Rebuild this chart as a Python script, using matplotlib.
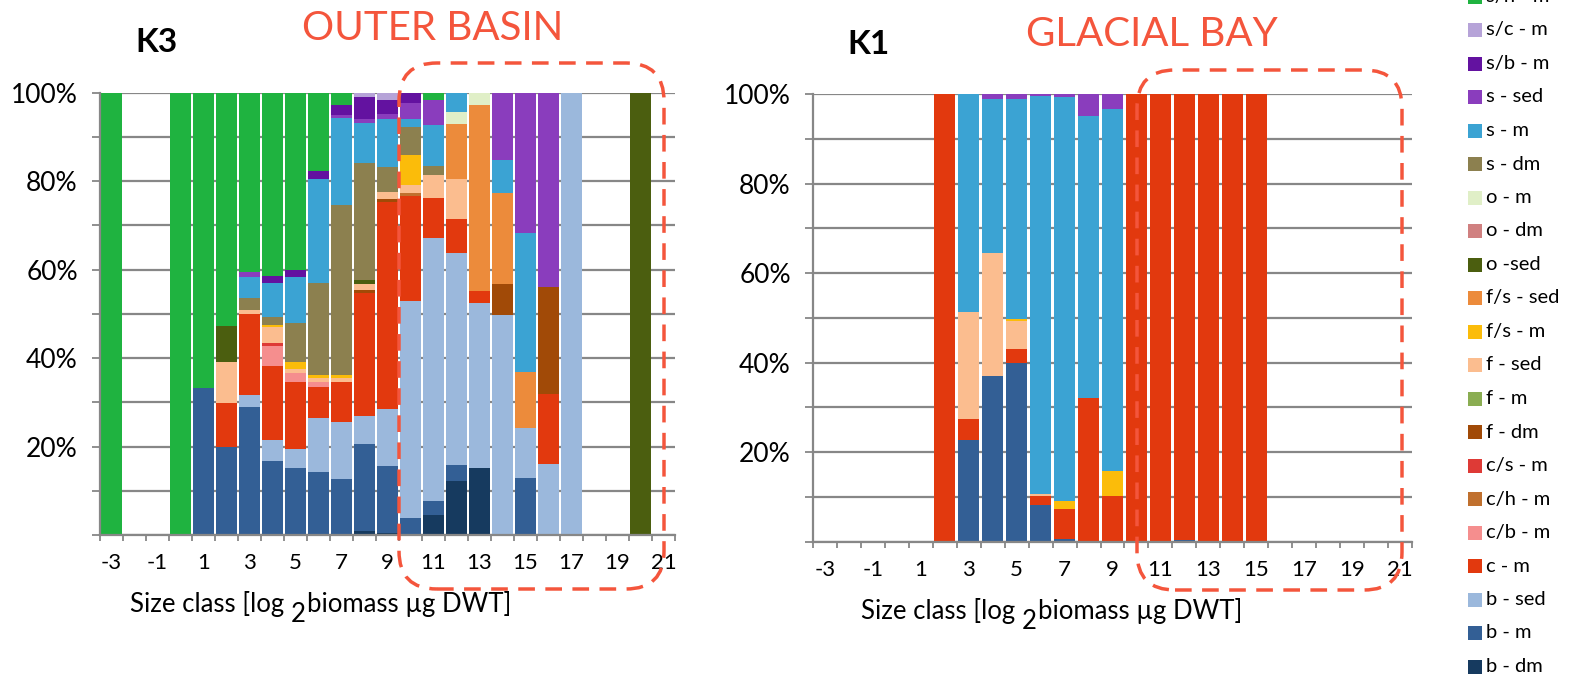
import numpy as np
import matplotlib
matplotlib.use("Agg")
import matplotlib.pyplot as plt
from matplotlib.patches import Rectangle, FancyBboxPatch
from matplotlib.transforms import IdentityTransform

plt.rcParams['font.family'] = ['Lato', 'DejaVu Sans']

W, H = 1569, 678

# size classes (log2 biomass), shared by both stations
size_class = list(range(-3, 22))

# legend order, top to bottom (bars stack in reverse of this)
legend_names = ["s/h - m", "s/c - m", "s/b - m", "s - sed", "s - m", "s - dm",
                "o - m", "o - dm", "o -sed", "f/s - sed", "f/s - m", "f - sed",
                "f - m", "f - dm", "c/s - m", "c/h - m", "c/b - m", "c - m",
                "b - sed", "b - m", "b - dm"]
legend_colors = ["#1fb340", "#b6a3d8", "#6312a0", "#8a3dbd", "#3ba3d3", "#8c804f",
                 "#e0efc7", "#d08080", "#4b5e0f", "#ec8b3b", "#fbbc0a", "#fbbd8f",
                 "#8aad52", "#a14a07", "#de3a36", "#c0702e", "#f58e8e", "#e2390e",
                 "#9bb8dc", "#335f95", "#163a5f"]

# K3 (outer basin), % per size class  -3 .. 21
k3_b_dm   = [0,0,0,0,0, 0,0,0,0,0, 0,0.8,0.5,0,4.5, 12.2,15.2,0,0,0, 0,0,0,0,0]
k3_b_m    = [0,0,0,0,33.2, 20.0,29.0,16.8,15.2,14.2, 12.7,19.7,15.1,3.9,3.2, 3.6,0,0,13.0,0, 0,0,0,0,0]
k3_b_sed  = [0,0,0,0,0, 0,2.6,4.7,4.2,12.2, 12.9,6.3,12.8,49.0,59.5, 47.9,37.2,49.7,11.3,16.1, 100,0,0,0,0]
k3_c_m    = [0,0,0,0,0, 9.9,18.3,16.8,15.3,7.1, 9.1,28.0,46.8,23.8,9.1, 7.7,2.8,0,0,15.7, 0,0,0,0,0]
k3_c_b_m  = [0,0,0,0,0, 0,0,4.5,2.0,1.0, 0,0,0,0,0, 0,0,0,0,0, 0,0,0,0,0]
k3_c_h_m  = [0,0,0,0,0, 0,0,0,0,0, 0,0,0,0.7,0, 0,0,0,0,0, 0,0,0,0,0]
k3_c_s_m  = [0,0,0,0,0, 0,0,0.5,0,0, 0,0,0,0,0, 0,0,0,0,0, 0,0,0,0,0]
k3_f_dm   = [0,0,0,0,0, 0,0,0,0,0, 0,0.6,0.8,0,0, 0,0,7.0,0,24.3, 0,0,0,0,0]
k3_f_sed  = [0,0,0,0,0, 9.3,1.0,3.8,0.8,0.9, 0.7,1.3,1.6,1.7,5.2, 9.1,0,0,0,0, 0,0,0,0,0]
k3_f_s_m  = [0,0,0,0,0, 0,0,0.4,1.7,0.8, 0.8,0,0,6.8,0, 0,0,0,0,0, 0,0,0,0,0]
k3_f_s_sed = [0,0,0,0,0, 0,0,0,0,0, 0,0,0,0,0, 12.4,42.0,20.7,12.6,0, 0,0,0,0,0]
k3_o_sed  = [0,0,0,0,0, 8.1,0,0,0,0, 0,0.9,0,0,0, 0,0,0,0,0, 0,0,0,100,0]
k3_o_m    = [0,0,0,0,0, 0,0,0,0,0, 0,0,0,0,0, 2.7,2.8,0,0,0, 0,0,0,0,0]
k3_s_dm   = [0,0,0,0,0, 0,2.6,1.9,8.7,20.8, 38.3,26.6,5.7,6.4,1.9, 0,0,0,0,0, 0,0,0,0,0]
k3_s_m    = [0,0,0,0,0, 0,4.9,7.5,10.5,23.6, 19.7,9.0,10.7,1.7,9.4, 4.4,0,7.4,31.3,0, 0,0,0,0,0]
k3_s_sed  = [0,0,0,0,0, 0,1.1,0,0,0, 0.8,0.8,1.1,3.6,5.5, 0,0,15.2,31.8,43.9, 0,0,0,0,0]
k3_s_b_m  = [0,0,0,0,0, 0,0,1.7,1.5,1.8, 2.2,5.1,3.2,2.4,0, 0,0,0,0,0, 0,0,0,0,0]
k3_s_c_m  = [0,0,0,0,0, 0,0,0,0,0, 0,0.9,1.7,0,0, 0,0,0,0,0, 0,0,0,0,0]
k3_s_h_m  = [100,0,0,100,66.8, 52.7,40.5,41.4,40.1,17.6, 2.8,0,0,0,1.7, 0,0,0,0,0, 0,0,0,0,0]

# K1 (glacial bay)
k1_b_m    = [0,0,0,0,0, 0,22.7,36.9,40.0,8.3, 0.5,0,0,0,0, 0.3,0,0,0,0, 0,0,0,0,0]
k1_c_m    = [0,0,0,0,0, 100,4.6,0,3.0,2.0, 6.8,32.0,10.1,100,100, 99.7,100,100,100,0, 0,0,0,0,0]
k1_f_sed  = [0,0,0,0,0, 0,23.9,27.5,6.4,0.3, 0,0,0,0,0, 0,0,0,0,0, 0,0,0,0,0]
k1_f_s_m  = [0,0,0,0,0, 0,0,0,0.4,0, 1.9,0,5.7,0,0, 0,0,0,0,0, 0,0,0,0,0]
k1_s_m    = [0,0,0,0,0, 0,48.8,34.5,49.1,89.0, 90.2,63.1,80.8,0,0, 0,0,0,0,0, 0,0,0,0,0]
k1_s_sed  = [0,0,0,0,0, 0,0,1.1,1.1,0.4, 0.6,4.9,3.4,0,0, 0,0,0,0,0, 0,0,0,0,0]

k3 = {"b - dm": k3_b_dm, "b - m": k3_b_m, "b - sed": k3_b_sed, "c - m": k3_c_m,
      "c/b - m": k3_c_b_m, "c/h - m": k3_c_h_m, "c/s - m": k3_c_s_m, "f - dm": k3_f_dm,
      "f - sed": k3_f_sed, "f/s - m": k3_f_s_m, "f/s - sed": k3_f_s_sed, "o -sed": k3_o_sed,
      "o - m": k3_o_m, "s - dm": k3_s_dm, "s - m": k3_s_m, "s - sed": k3_s_sed,
      "s/b - m": k3_s_b_m, "s/c - m": k3_s_c_m, "s/h - m": k3_s_h_m}
k1 = {"b - m": k1_b_m, "c - m": k1_c_m, "f - sed": k1_f_sed, "f/s - m": k1_f_s_m,
      "s - m": k1_s_m, "s - sed": k1_s_sed}

GRID = "#878787"
RED = "#f4553c"


def draw_panel(ax, data):
    x = np.array(size_class)
    bottom = np.zeros(len(x))
    # stack from the bottom of the legend upwards
    for name, color in zip(legend_names[::-1], legend_colors[::-1]):
        vals = np.array(data.get(name, [0] * len(x)), dtype=float)
        if vals.sum() == 0:
            continue
        ax.bar(x, vals, bottom=bottom, width=0.87, color=color, linewidth=0)
        bottom += vals

    ax.set_xlim(-3.5, 21.5)
    ax.set_ylim(0, 100)
    ax.set_axisbelow(True)
    ax.set_yticks(np.arange(0, 101, 10))
    ax.set_yticklabels([f"{v}%" if v > 0 and v % 20 == 0 else "" for v in range(0, 101, 10)],
                       fontsize=19)
    ax.yaxis.grid(True, color=GRID, linewidth=1.6)
    ax.tick_params(axis="y", length=6, width=1.3, color=GRID, pad=10)

    ax.set_xticks(size_class[::2])
    ax.set_xticklabels([str(v) for v in size_class[::2]], fontsize=16)
    ax.set_xticks(np.arange(-3.5, 22, 1), minor=True)
    ax.tick_params(axis="x", which="major", length=0, pad=13)
    ax.tick_params(axis="x", which="minor", length=4, width=1.3, color=GRID)

    for s in ["top", "right"]:
        ax.spines[s].set_visible(False)
    for s in ["left", "bottom"]:
        ax.spines[s].set_color(GRID)
        ax.spines[s].set_linewidth(1.6)


fig = plt.figure(figsize=(W / 100, H / 100), dpi=100)
fig.patch.set_facecolor("white")

ax1 = fig.add_axes([100 / W, 1 - 535 / H, 575 / W, (535 - 92.7) / H])
ax2 = fig.add_axes([813 / W, 1 - 541.7 / H, 599 / W, (541.7 - 94) / H])
draw_panel(ax1, k3)
draw_panel(ax2, k1)

# titles
fig.text(157 / W, 1 - 43 / H, "K3", fontsize=24, fontweight="bold", ha="center", va="center")
fig.text(868 / W, 1 - 44 / H, "K1", fontsize=24, fontweight="bold", ha="center", va="center")
fig.text(433 / W, 1 - 28 / H, "OUTER BASIN", fontsize=29, color=RED, ha="center", va="center")
fig.text(1152 / W, 1 - 35 / H, "GLACIAL BAY", fontsize=29, color=RED, ha="center", va="center")

# x axis titles with the lowered "2"
for x0, ybase in [(130, 612), (861, 619)]:
    t1 = fig.text(x0 / W, 1 - ybase / H, "Size class [log", fontsize=18.5, va="baseline")
    t2 = fig.add_artist(plt.Annotation("2", xy=(1, 0), xycoords=t1, xytext=(5, -7),
                                       textcoords="offset points", fontsize=18.5, va="bottom"))
    fig.add_artist(plt.Annotation("biomass µg DWT]", xy=(1, 0), xycoords=t2, xytext=(1, 7),
                                  textcoords="offset points", fontsize=18.5, va="bottom"))

# dashed highlight boxes (pixel coordinates)
for x0, y_top, x1, y_bot in [(399, 63, 664, 589), (1137, 70, 1402, 590)]:
    box = FancyBboxPatch((x0, H - y_bot), x1 - x0, y_bot - y_top,
                         boxstyle="round,pad=0,rounding_size=38",
                         transform=IdentityTransform(), fill=False,
                         edgecolor=RED, linewidth=2.5, linestyle=(0, (4.8, 3)))
    fig.add_artist(box)

# legend, drawn by hand so the first entry runs off the top edge like the original
for i, (name, color) in enumerate(zip(legend_names, legend_colors)):
    yc = -3.5 + 33.5 * i
    fig.add_artist(Rectangle((1468 / W, 1 - (yc + 7) / H), 14 / W, 14 / H,
                             transform=fig.transFigure, facecolor=color, linewidth=0))
    fig.text(1486 / W, 1 - yc / H, name, fontsize=14.5, va="center", ha="left")

fig.savefig("out.png", dpi=100)
